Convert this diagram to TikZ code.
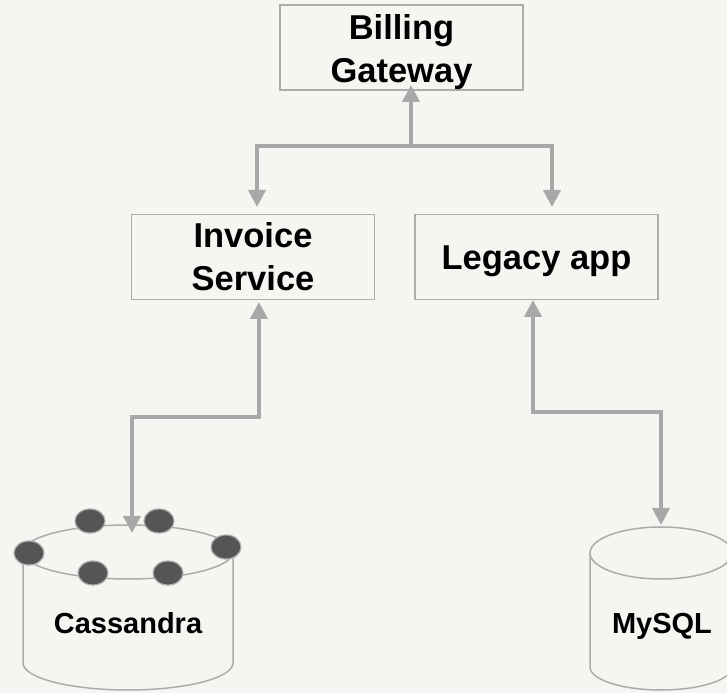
\documentclass[tikz,border=0pt]{standalone}
\usepackage{fontspec}
\setmainfont{Liberation Sans}
\usetikzlibrary{arrows.meta,calc}
\definecolor{bg}{RGB}{245,245,241}
\definecolor{edge}{RGB}{172,172,172}
\definecolor{conncol}{RGB}{168,168,168}
\definecolor{dotfill}{RGB}{85,85,85}
\begin{document}
\begin{tikzpicture}[x=1pt,y=1pt,
  box/.style={draw=edge, line width=1.5pt, minimum width=242pt, minimum height=85pt,
    inner sep=0pt},
  boxtext/.style={inner sep=0pt, align=center, font=\fontsize{34.5}{43}\selectfont\bfseries},
  cyl/.style={draw=edge, line width=1.5pt},
  dbtext/.style={anchor=base, inner sep=0pt, font=\fontsize{29}{34}\selectfont\bfseries},
  dotst/.style={draw=edge, line width=1.2pt, fill=dotfill},
  tip/.tip={Triangle[width=17pt,length=17pt]},
  conn/.style={draw=conncol, line width=4pt, -tip},
  conntwo/.style={draw=conncol, line width=4pt, tip-tip}]
\fill[bg] (0,0) rectangle (727,693);
\useasboundingbox (0,0) rectangle (727,693);

% boxes
\node[box, minimum width=243pt] (bill) at (401.5,645.5) {};
\node[boxtext] (billt) at ([yshift=-5pt]bill.center) {Billing\\Gateway};
\node[box, minimum width=243pt] (inv) at (253,436) {};
\node[boxtext] (invt) at ([yshift=0pt]inv.center) {Invoice\\Service};
\node[box, minimum width=243pt] (leg) at (536.5,436) {};
\node[boxtext] (legt) at ([yshift=-4pt]leg.center) {Legacy app};

% Cassandra cylinder
\draw[cyl] (128,141) ellipse [x radius=105, y radius=27];
\draw[cyl] (23,141) -- (23,30) arc[start angle=180, end angle=360, x radius=105, y radius=27] -- (233,141);
\node[dbtext] (cas) at (128,60) {Cassandra};
\draw[dotst] (90,172) ellipse [x radius=15, y radius=12];
\draw[dotst] (159,172) ellipse [x radius=15, y radius=12];
\draw[dotst] (29,140) ellipse [x radius=15, y radius=12];
\draw[dotst] (226,146) ellipse [x radius=15, y radius=12];
\draw[dotst] (93,120) ellipse [x radius=15, y radius=12];
\draw[dotst] (168,120) ellipse [x radius=15, y radius=12];

% MySQL cylinder
\draw[cyl] (661,140) ellipse [x radius=71, y radius=26];
\draw[cyl] (590,140) -- (590,26) arc[start angle=180, end angle=360, x radius=71, y radius=23] -- (732,140);
\node[dbtext] (mys) at (662,60) {MySQL};

% connector end points
\coordinate (billBot) at (411,608);
\coordinate (junc) at (411,547);
\coordinate (invTop) at (257,486);
\coordinate (legTop) at (552,486);
\coordinate (invBot) at (259,391);
\coordinate (casTop) at (132,160);
\coordinate (legBot) at (533,393);
\coordinate (mysTop) at (661,168);

\draw[conntwo] (invTop) |- (junc) -- (billBot);
\draw[conn] (junc) -| (legTop);
\draw[conntwo] (invBot) |- ($(invBot)!.5!(casTop)$) -| (casTop);
\draw[conntwo] (legBot) |- ($(legBot)!.5!(mysTop)$) -| (mysTop);
\end{tikzpicture}
\end{document}
